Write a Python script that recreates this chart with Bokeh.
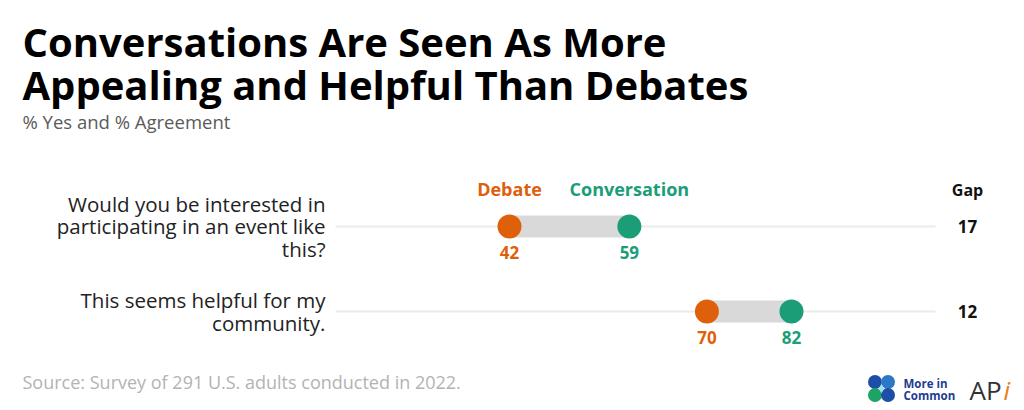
from bokeh.plotting import figure
from bokeh.models import Range1d, ColumnDataSource
from bokeh.core.properties import value
from bokeh.embed import file_html
from bokeh.resources import INLINE

# ---- data ----
questions = ["Would you be interested in\nparticipating in an event like\nthis?",
             "This seems helpful for my\ncommunity."]
debate = [42, 70]
conversation = [59, 82]
gap = [17, 12]
series_names = ["Debate", "Conversation", "Gap"]

title_lines = ["Conversations Are Seen As More", "Appealing and Helpful Than Debates"]
subtitle = "% Yes and % Agreement"
source_note = "Source: Survey of 291 U.S. adults conducted in 2022."

# ---- style / layout ----
W, H = 1024, 410
PX_PER_UNIT = 7.05
X0_PX = 212.9  # canvas px of value 0
ORANGE = "#DE600B"
GREEN = "#1B9E78"
FONT = "Open Sans"
row_y = [226, 311]


def px(x):
    return (x - X0_PX) / PX_PER_UNIT


GAP_X = px(967)
LEFT_X = px(22)
Q_X = px(325)
GRID_START, GRID_END = px(335), px(935)

p = figure(width=W, height=H, output_backend="svg", toolbar_location=None,
           x_range=Range1d(-X0_PX / PX_PER_UNIT, (W - X0_PX) / PX_PER_UNIT),
           y_range=Range1d(H, 0), min_border=0)
p.axis.visible = False
p.grid.visible = False
p.outline_line_color = None
p.background_fill_color = "white"
p.border_fill_color = "white"

src = ColumnDataSource(dict(
    q=questions, d=debate, c=conversation, y=row_y,
    yl=[v + 26 for v in row_y],
    dl=[str(v) for v in debate], cl=[str(v) for v in conversation],
    g=[str(v) for v in gap],
    gx=[GAP_X] * len(gap), gs=[GRID_START] * len(gap), ge=[GRID_END] * len(gap),
    qx=[Q_X] * len(gap),
))

# grid lines
p.segment(x0="gs", x1="ge", y0="y", y1="y", source=src, line_color="#ebebeb", line_width=2)
# connecting bars
p.segment(x0="d", x1="c", y0="y", y1="y", source=src, line_color="#d9d9d9", line_width=22, line_cap="butt")
# dots
p.scatter(x="d", y="y", source=src, size=24, fill_color=ORANGE, line_color=None)
p.scatter(x="c", y="y", source=src, size=24, fill_color=GREEN, line_color=None)
# value labels
p.text(x="d", y="yl", text="dl", source=src, text_color=ORANGE, text_font=value(FONT),
       text_font_style="bold", text_font_size="17px", text_align="center", text_baseline="middle")
p.text(x="c", y="yl", text="cl", source=src, text_color=GREEN, text_font=value(FONT),
       text_font_style="bold", text_font_size="17px", text_align="center", text_baseline="middle")
# gap values
p.text(x="gx", y="y", text="g", source=src, text_color="#111111", text_font=value(FONT),
       text_font_style="bold", text_font_size="17px", text_align="center", text_baseline="middle")
# question labels
p.text(x="qx", y="y", text="q", source=src, text_color="#222222", text_font=value(FONT),
       text_font_size="20.5px", text_align="right", text_baseline="middle", text_line_height=0.8)

# headers
p.text(x=[debate[0]], y=[188], text=[series_names[0]], text_color=ORANGE, text_font=value(FONT),
       text_font_style="bold", text_font_size="18px", text_align="center", text_baseline="middle")
p.text(x=[conversation[0]], y=[188], text=[series_names[1]], text_color=GREEN, text_font=value(FONT),
       text_font_style="bold", text_font_size="18px", text_align="center", text_baseline="middle")
p.text(x=[GAP_X], y=[189], text=[series_names[2]], text_color="#111111", text_font=value(FONT),
       text_font_style="bold", text_font_size="16px", text_align="center", text_baseline="middle")

# title, subtitle, source
p.text(x=[LEFT_X, LEFT_X], y=[41, 84], text=title_lines, text_color="#000000", text_font=value(FONT),
       text_font_style="bold", text_font_size="40px", text_align="left", text_baseline="middle")
p.text(x=[LEFT_X], y=[121], text=[subtitle], text_color="#5a5a5a", text_font=value(FONT),
       text_font_size="18.5px", text_align="left", text_baseline="middle")
p.text(x=[LEFT_X], y=[381], text=[source_note], text_color="#b3b3b3", text_font=value(FONT),
       text_font_size="18px", text_align="left", text_baseline="middle")

# logos
cx, cy = 881, 388
p.scatter(x=[px(cx - 6.5), px(cx + 6.5), px(cx - 6.5), px(cx + 6.5)], y=[cy - 6.5, cy - 6.5, cy + 6.5, cy + 6.5],
          size=14, fill_color=["#1d4fa6", "#2a78c6", "#1ea266", "#1d4fa6"], line_color=None)
p.scatter(x=[px(cx)], y=[cy], size=9, marker="diamond", fill_color="#9fe0f2", line_color=None)
p.text(x=[px(903), px(903)], y=[383, 395], text=["More in", "Common"], text_color="#1d3c8f",
       text_font=value(FONT), text_font_style="bold", text_font_size="11.5px",
       text_align="left", text_baseline="middle")
p.text(x=[px(969)], y=[389], text=["AP"], text_color="#333333", text_font=value(FONT),
       text_font_size="26px", text_align="left", text_baseline="middle")
p.text(x=[px(1003)], y=[389], text=["i"], text_color="#E8801E", text_font=value(FONT),
       text_font_style="italic", text_font_size="26px", text_align="left", text_baseline="middle")

open("out.html", "w").write(file_html(p, INLINE))
